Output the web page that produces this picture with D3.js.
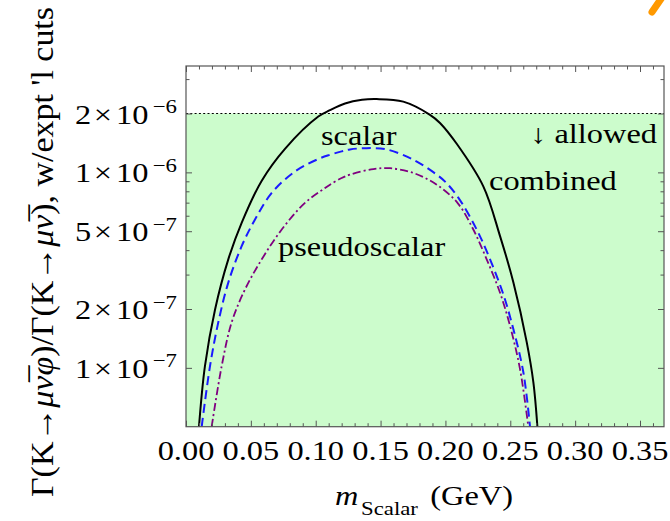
<!DOCTYPE html>
<html><head><meta charset="utf-8">
<script src="https://cdn.jsdelivr.net/npm/d3@7"></script>
<style>body{margin:0;background:#fff}svg{display:block}</style>
</head><body><svg id="c" width="670" height="521"></svg>
<script>
// ---- data ----
const xTickValues = [0, 0.05, 0.10, 0.15, 0.20, 0.25, 0.30, 0.35];
const xTickLabels = ["0.00","0.05","0.10","0.15","0.20","0.25","0.30","0.35"];
const xMinorTicks = [0.01,0.02,0.03,0.04,0.06,0.07,0.08,0.09,0.11,0.12,0.13,0.14,0.16,0.17,0.18,0.19,0.21,0.22,0.23,0.24,0.26,0.27,0.28,0.29,0.31,0.32,0.33,0.34,0.36];
const yTickValues = [2e-6, 1e-6, 5e-7, 2e-7, 1e-7];
const yTickMantissa = ["2","1","5","2","1"];
const yTickExponent = ["\u22126","\u22126","\u22127","\u22127","\u22127"];
const yMinorTicks = [3e-6, 9e-7, 8e-7, 7e-7, 6e-7, 4e-7, 3e-7];
const allowedLimit = 2e-6;

const combinedX = [0.0100,0.0146,0.0224,0.0326,0.0429,0.0584,0.0763,0.1020,0.1110,0.1226,0.1357,0.1470,0.1675,0.1881,0.1958,0.2087,0.2292,0.2421,0.2524,0.2627,0.2678,0.2709];
const combinedY = [5.0e-8,1.02e-7,1.99e-7,3.59e-7,5.52e-7,9.07e-7,1.32e-6,1.93e-6,2.08e-6,2.25e-6,2.35e-6,2.37e-6,2.30e-6,1.97e-6,1.79e-6,1.40e-6,8.48e-7,4.72e-7,2.73e-7,1.35e-7,8.43e-8,5.0e-8];

const scalarX = [0.0121,0.0185,0.0249,0.0326,0.0429,0.0532,0.0661,0.0840,0.1020,0.1110,0.1200,0.1264,0.1393,0.1547,0.1753,0.1933,0.2005,0.2099,0.2241,0.2344,0.2446,0.2524,0.2601,0.2652];
const scalarY = [5.0e-8,1.02e-7,1.71e-7,2.73e-7,4.19e-7,5.74e-7,7.85e-7,1.01e-6,1.17e-6,1.23e-6,1.28e-6,1.31e-6,1.33e-6,1.31e-6,1.16e-6,9.73e-7,8.86e-7,7.43e-7,5.10e-7,3.59e-7,2.38e-7,1.575e-7,9.47e-8,5.0e-8];

const pseudoX = [0.0198,0.0275,0.0352,0.0455,0.0584,0.0738,0.0917,0.1072,0.1110,0.1200,0.1264,0.1444,0.1573,0.1753,0.1933,0.2093,0.2215,0.2318,0.2421,0.2498,0.2575,0.2639];
const pseudoY = [5.0e-8,1.02e-7,1.71e-7,2.52e-7,3.59e-7,5.10e-7,6.98e-7,8.32e-7,8.65e-7,9.36e-7,9.73e-7,1.04e-6,1.05e-6,9.93e-7,8.65e-7,6.98e-7,5.10e-7,3.59e-7,2.42e-7,1.64e-7,9.85e-8,5.0e-8];

// ---- layout ----
const L = 186, R = 664, T = 66, B = 426.7;
const SX = 1.2; // horizontal text stretch
const FONT = "'Liberation Serif','Times New Roman',serif";
const svg = d3.select("#c");
const x = d3.scaleLinear().domain([0, 0.3685]).range([L, R]);
const y = d3.scaleLog().domain([5e-8, 3.5e-6]).range([B, T]);

svg.append("defs").append("clipPath").attr("id","clip")
  .append("rect").attr("x",L).attr("y",T).attr("width",R-L).attr("height",B-T);

// allowed region
svg.append("rect").attr("x",L).attr("y",y(allowedLimit)).attr("width",R-L)
  .attr("height",B-y(allowedLimit)).attr("fill","#ccfccc");
svg.append("line").attr("x1",L).attr("x2",R).attr("y1",y(allowedLimit)).attr("y2",y(allowedLimit))
  .attr("stroke","#000").attr("stroke-width",1).attr("stroke-dasharray","2,2.3");

// curves
const line = d3.line().x(d=>x(d[0])).y(d=>y(d[1])).curve(d3.curveCatmullRom.alpha(0.5));
const gC = svg.append("g").attr("clip-path","url(#clip)");
gC.append("path").attr("d", line(d3.zip(pseudoX,pseudoY))).attr("fill","none")
  .attr("stroke","#800080").attr("stroke-width",1.8).attr("stroke-dasharray","8,3,2,3");
gC.append("path").attr("d", line(d3.zip(scalarX,scalarY))).attr("fill","none")
  .attr("stroke","#1a1aff").attr("stroke-width",2).attr("stroke-dasharray","9,5");
gC.append("path").attr("d", line(d3.zip(combinedX,combinedY))).attr("fill","none")
  .attr("stroke","#000").attr("stroke-width",2);

// frame + ticks
const axCol = "#555";
svg.append("rect").attr("x",L).attr("y",T).attr("width",R-L).attr("height",B-T)
  .attr("fill","none").attr("stroke",axCol).attr("stroke-width",1.2);
const axes = [
  [`translate(0,${B})`, d3.axisBottom(x).tickValues(xTickValues).tickSize(-6)],
  [`translate(0,${B})`, d3.axisBottom(x).tickValues(xMinorTicks).tickSize(-3.5)],
  [`translate(0,${T})`, d3.axisTop(x).tickValues(xTickValues).tickSize(-6)],
  [`translate(0,${T})`, d3.axisTop(x).tickValues(xMinorTicks).tickSize(-3.5)],
  [`translate(${L},0)`, d3.axisLeft(y).tickValues(yTickValues).tickSize(-6)],
  [`translate(${L},0)`, d3.axisLeft(y).tickValues(yMinorTicks).tickSize(-3.5)],
  [`translate(${R},0)`, d3.axisRight(y).tickValues(yTickValues).tickSize(-6)],
  [`translate(${R},0)`, d3.axisRight(y).tickValues(yMinorTicks).tickSize(-3.5)]
];
axes.forEach(([tr, ax])=>{
  const a = svg.append("g").attr("transform",tr).call(ax.tickFormat(""));
  a.select(".domain").remove();
  a.selectAll("line").attr("stroke",axCol).attr("stroke-width",1);
});

// text helper
function txt(px, py, anchor, size){
  return svg.append("text").attr("transform",`translate(${px},${py}) scale(${SX},1)`)
    .attr("text-anchor",anchor).attr("font-family",FONT).attr("font-size",size).attr("fill","#000");
}

// x tick labels
xTickValues.forEach((v,i)=>{ txt(x(v), 460, "middle", 27).text(xTickLabels[i]); });

// y tick labels
yTickValues.forEach((v,i)=>{
  const yy = y(v);
  txt(75, yy+10, "start", 27).text(yTickMantissa[i]);
  txt(103, yy+10, "middle", 27).text("\u00d7");
  txt(116, yy+10, "start", 27).text("10");
  txt(177, yy-0.5, "end", 19).text(yTickExponent[i]);
});

// x axis title
txt(335, 505, "start", 27).attr("font-style","italic").text("m");
txt(361, 515, "start", 19).text("Scalar");
txt(513, 505, "end", 27).text("(GeV)");

// y axis title
{
  const t = svg.append("text").attr("transform",`translate(53,252) rotate(-90) scale(1,${SX})`)
    .attr("text-anchor","middle").attr("font-family",FONT).attr("font-size",27)
    .attr("textLength",490).attr("lengthAdjust","spacingAndGlyphs");
  t.append("tspan").text("\u0393(K\u2192");
  t.append("tspan").attr("font-style","italic").text("\u03bc\u03bd\u0305\u03c6");
  t.append("tspan").text(")/\u0393(K\u2192");
  t.append("tspan").attr("font-style","italic").text("\u03bc\u03bd\u0305");
  t.append("tspan").text("), w/expt 'l cuts");
}

// annotations
txt(321, 145, "start", 27).text("scalar");
txt(657, 143, "end", 27).text("\u2193 allowed");
txt(489, 190, "start", 27).text("combined");
txt(278, 256, "start", 27).text("pseudoscalar");

// orange stroke in top-right corner
svg.append("line").attr("x1",652).attr("y1",12).attr("x2",663).attr("y2",-4)
  .attr("stroke","#ff9900").attr("stroke-width",7).attr("stroke-linecap","round");
</script></body></html>
